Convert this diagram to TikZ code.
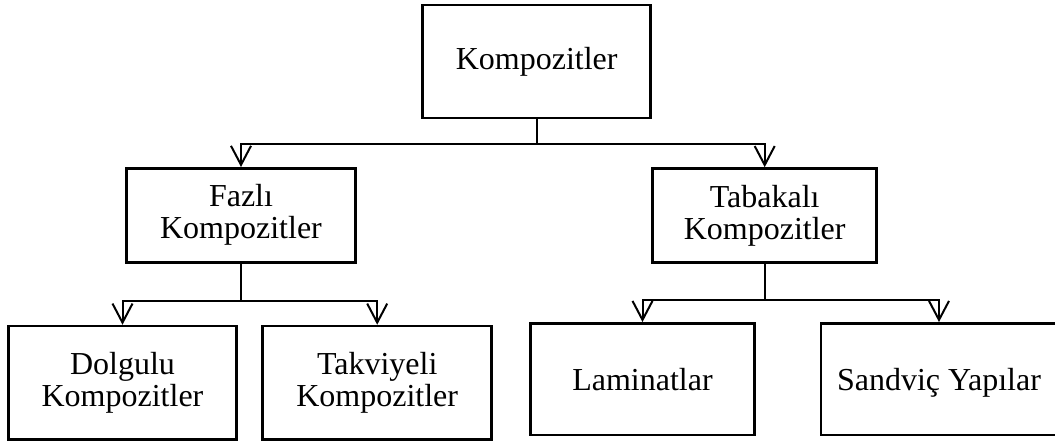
\documentclass[tikz,border=0pt]{standalone}
\usepackage{fontspec}
\setmainfont{Liberation Serif}
\usetikzlibrary{arrows.meta}
\begin{document}
\begin{tikzpicture}[x=1pt,y=-1pt,
  box/.style={draw,line width=2.6pt,rectangle,inner sep=0pt,align=center,
    font=\fontsize{32}{32}\selectfont},
  conn/.style={line width=2pt},
  arr/.style={conn,-{Straight Barb[length=19pt,width=20pt,line width=2pt]}}]
\useasboundingbox (0,0) rectangle (1055,441);
\fill[white] (0,0) rectangle (1055,441);
\node[box,minimum width=228pt,minimum height=113pt] (root) at (536.7,61.4) {Kompozitler};
\node[box,minimum width=228.6pt,minimum height=94pt] (faz) at (241,215.3) {Fazlı\\Kompozitler};
\node[box,minimum width=224pt,minimum height=94pt] (tab) at (764.7,215.5) {Tabakalı\\Kompozitler};
\node[box,minimum width=228.4pt,minimum height=113.3pt] (dol) at (122.5,382.7) {Dolgulu\\Kompozitler};
\node[box,minimum width=229pt,minimum height=113.3pt] (tak) at (377.2,382.7) {Takviyeli\\Kompozitler};
\node[box,minimum width=223.6pt,minimum height=111.7pt] (lam) at (642.5,379.2) {Laminatlar};
\node[box,text depth=0pt,minimum width=236pt,minimum height=111.7pt] (san) at (939,379.2) {Sandviç Yapılar};
\coordinate (j1) at (536.7,144);
\coordinate (j2) at (241,301);
\coordinate (j3) at (764.7,299.5);
\draw[conn] (root.south) -- (j1);
\draw[arr] (j1) -| (faz.north);
\draw[arr] (j1) -| (tab.north);
\draw[conn] (faz.south) -- (j2);
\draw[arr] (j2) -| (dol.north);
\draw[arr] (j2) -| (tak.north);
\draw[conn] (tab.south) -- (j3);
\draw[arr] (j3) -| (lam.north);
\draw[arr] (j3) -| (san.north);
\end{tikzpicture}
\end{document}
